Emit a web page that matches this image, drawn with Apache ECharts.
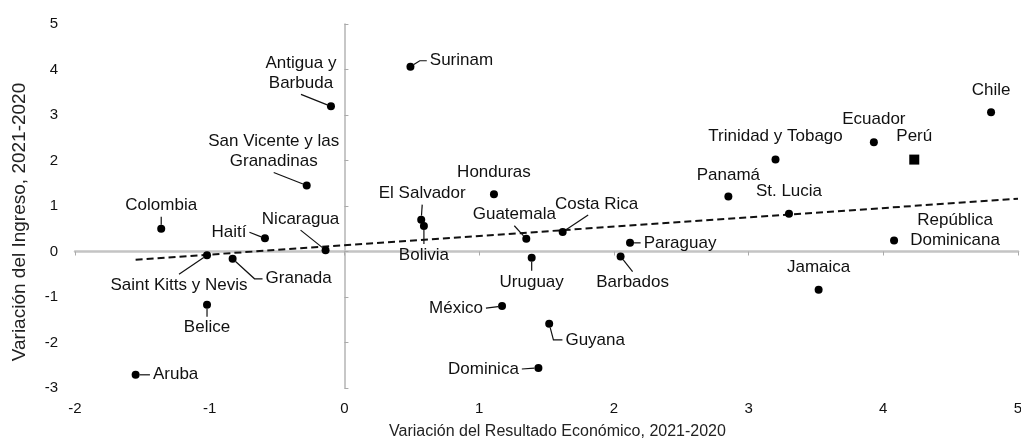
<!DOCTYPE html>
<html>
<head>
<meta charset="utf-8">
<script src="https://cdn.jsdelivr.net/npm/echarts@6/dist/echarts.min.js"></script>
<style>
  html, body { margin: 0; padding: 0; background: #fff; }
  #chart { width: 1021px; height: 439px; }
</style>
</head>
<body>
<div id="chart"></div>
<script>
// Country observations: change in economic result (x) vs change in income (y), 2021-2020
const countries = [
  'Antigua y\nBarbuda', 'San Vicente y las\nGranadinas', 'Colombia', 'Haití', 'Nicaragua',
  'Saint Kitts y Nevis', 'Granada', 'Belice', 'Aruba', 'Surinam',
  'Honduras', 'El Salvador', 'Bolivia', 'Guatemala', 'Costa Rica',
  'Paraguay', 'Barbados', 'Uruguay', 'México', 'Guyana',
  'Dominica', 'Trinidad y Tobago', 'Ecuador', 'Perú', 'Chile',
  'Panamá', 'St. Lucia', 'República\nDominicana', 'Jamaica'
];
const resultChange = [
  -0.10, -0.28, -1.36, -0.59, -0.14,
  -1.02, -0.83, -1.02, -1.55, 0.49,
  1.11, 0.57, 0.59, 1.35, 1.62,
  2.12, 2.05, 1.39, 1.17, 1.52,
  1.44, 3.20, 3.93, 4.23, 4.80,
  2.85, 3.30, 4.08, 3.52
];
const incomeChange = [
  3.19, 1.45, 0.50, 0.29, 0.03,
  -0.08, -0.16, -1.17, -2.71, 4.06,
  1.26, 0.70, 0.56, 0.28, 0.43,
  0.19, -0.11, -0.14, -1.20, -1.59,
  -2.56, 2.02, 2.40, 2.02, 3.06,
  1.21, 0.83, 0.24, -0.84
];
// Fitted trend line end points
const trendX = [-1.55, 5.0];
const trendY = [-0.18, 1.16];

const xTicks = [-2, -1, 0, 1, 2, 3, 4, 5];
const yTicks = [-3, -2, -1, 0, 1, 2, 3, 4, 5];

// Label placement around each point: [dx, dy] in pixels, leader line, elbow length, box padding
const labelPlace = {
  'Antigua y\nBarbuda': [-30, -33, true, 0],
  'San Vicente y las\nGranadinas': [-33, -34, true, 0],
  'Colombia': [0, -23, true, 0],
  'Haití': [-36, -6, true, 0],
  'Nicaragua': [-25, -31, true, 0],
  'Saint Kitts y Nevis': [-28, 30, true, 0],
  'Granada': [66, 20, true, 8],
  'Belice': [0, 23, true, 0],
  'Aruba': [40, 0, true, 0],
  'Surinam': [51, -6, true, 7],
  'Honduras': [0, -22, false, 0],
  'El Salvador': [1, -26, true, 0],
  'Bolivia': [0, 29, true, 0],
  'Guatemala': [-12, -24, true, 0],
  'Costa Rica': [25.5, -28, true, 0, [1, 3, 1, 20]],
  'Paraguay': [50, 0, true, 0],
  'Barbados': [12, 26, true, 0],
  'Uruguay': [0, 24, true, 0],
  'México': [-46, 2, true, 0],
  'Guyana': [46, 16, true, 9],
  'Dominica': [-55, 1, true, 0],
  'Trinidad y Tobago': [0, -23, false, 0],
  'Ecuador': [0, -23, false, 0],
  'Perú': [0, -23, false, 0],
  'Chile': [0, -22, false, 0],
  'Panamá': [0, -21, false, 0],
  'St. Lucia': [0, -22, false, 0],
  'República\nDominicana': [61, -10, false, 0],
  'Jamaica': [0, -22, false, 0]
};

const FONT = '"Liberation Sans", Arial, sans-serif';
const INK = '#111';

const points = countries.map((name, i) => {
  const p = labelPlace[name];
  const item = {
    name: name,
    value: [resultChange[i], incomeChange[i]],
    labelLine: { show: p[2], length2: p[3] }
  };
  if (p[4]) item.label = { padding: p[4] };
  return item;
});
const trend = trendX.map((x, i) => [x, trendY[i]]);

const chart = echarts.init(document.getElementById('chart'), null, { renderer: 'canvas' });
chart.setOption({
  animation: false,
  backgroundColor: '#fff',
  textStyle: { fontFamily: FONT },
  grid: { left: 75, right: 3, top: 24, bottom: 51, containLabel: false, outerBoundsMode: 'none' },
  xAxis: [
    {
      type: 'value', min: xTicks[0], max: xTicks[xTicks.length - 1], interval: 1,
      position: 'bottom',
      axisLine: { show: false, onZero: false },
      axisTick: { show: false },
      splitLine: { show: false },
      axisLabel: { fontSize: 15, color: INK, margin: 13, fontFamily: FONT },
      name: 'Variación del Resultado Económico, 2021-2020',
      nameLocation: 'middle', nameGap: 36,
      nameTextStyle: { fontSize: 16, color: '#222', fontFamily: FONT, padding: [0, 0, 0, 22] }
    },
    {
      // zero line of the income axis
      type: 'value', min: xTicks[0], max: xTicks[xTicks.length - 1], interval: 1,
      position: 'top',
      axisLine: { show: true, onZero: true, onZeroAxisIndex: 0, lineStyle: { color: '#c4c4c4', width: 2.5 } },
      axisTick: { show: true, inside: true, length: 4, lineStyle: { color: '#aaa', width: 1 } },
      axisLabel: { show: false },
      splitLine: { show: false }
    }
  ],
  yAxis: [
    {
      type: 'value', min: yTicks[0], max: yTicks[yTicks.length - 1], interval: 1,
      position: 'left',
      axisLine: { show: false, onZero: false },
      axisTick: { show: false },
      splitLine: { show: false },
      axisLabel: { fontSize: 15, color: INK, margin: 17, fontFamily: FONT },
      name: 'Variación del Ingreso, 2021-2020',
      nameLocation: 'middle', nameGap: 46,
      nameTextStyle: { fontSize: 19, color: '#222', fontFamily: FONT, padding: [0, 32, 0, 0] }
    },
    {
      // zero line of the economic result axis
      type: 'value', min: yTicks[0], max: yTicks[yTicks.length - 1], interval: 1,
      position: 'right',
      axisLine: { show: true, onZero: true, onZeroAxisIndex: 0, lineStyle: { color: '#b4b4b4', width: 1.5 } },
      axisTick: { show: true, length: 4, lineStyle: { color: '#aaa', width: 1 } },
      axisLabel: { show: false },
      splitLine: { show: false }
    }
  ],
  series: [
    {
      type: 'line',
      xAxisIndex: 0, yAxisIndex: 0,
      data: trend,
      symbol: 'none',
      silent: true,
      z: 3,
      lineStyle: { color: '#111', width: 2, type: [7, 4] }
    },
    {
      type: 'scatter',
      xAxisIndex: 0, yAxisIndex: 0,
      data: points,
      z: 4,
      symbol: (val, params) => params.name === 'Perú' ? 'rect' : 'circle',
      symbolSize: (val, params) => params.name === 'Perú' ? 10 : 8,
      itemStyle: { color: '#000', opacity: 1 },
      label: {
        show: true, position: 'inside', formatter: '{b}',
        color: INK, fontSize: 17, lineHeight: 20, align: 'center',
        fontFamily: FONT, padding: [1, 3]
      },
      labelLine: { show: true, lineStyle: { color: INK, width: 1.2 } },
      labelLayout: (params) => {
        const p = labelPlace[countries[params.dataIndex]];
        return { dx: p[0], dy: p[1] };
      }
    }
  ]
});
</script>
</body>
</html>
